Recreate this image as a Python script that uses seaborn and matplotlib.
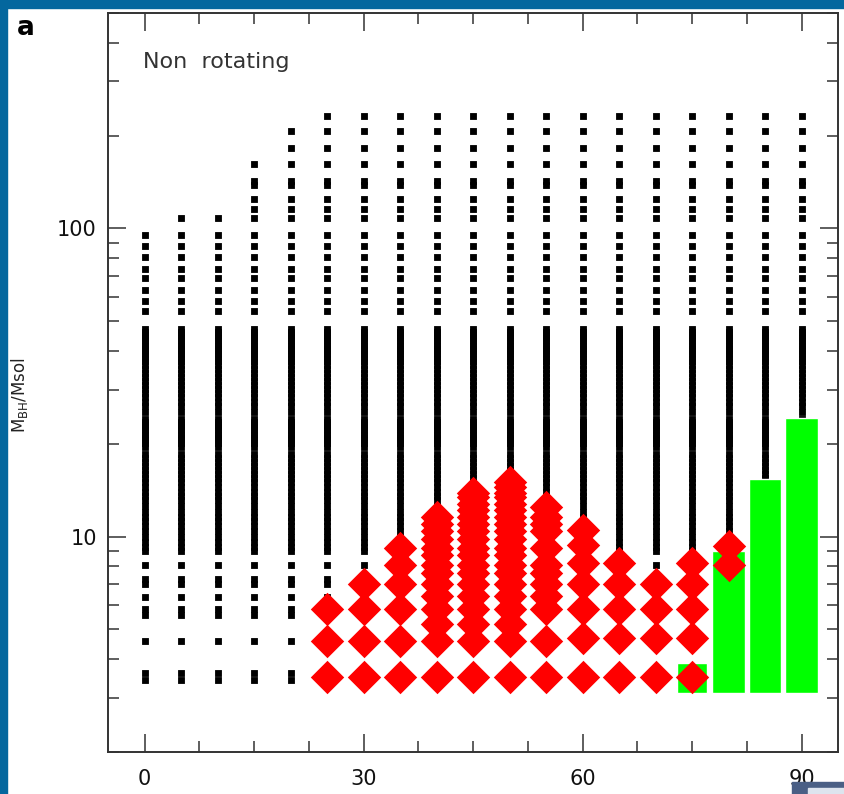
import pandas as pd
import seaborn as sns
import matplotlib.pyplot as plt
from matplotlib.ticker import MultipleLocator, LogLocator, NullFormatter, FixedLocator
from matplotlib.patches import Rectangle

# black model grid: remnant masses (Msol) tested at every column
mass_grid = [3.42, 3.6, 4.6, 5.55, 5.8, 6.35, 7.0, 7.3, 8.1, 9.0, 9.25, 9.6, 10.0,
             10.4, 10.8, 11.2, 11.6, 12.0, 12.6, 13.1, 13.5, 14.0, 14.5, 15.0,
             15.5, 16.0, 16.5, 17.0, 17.5, 18.0, 18.6, 19.6, 20.1, 20.6, 21.1,
             21.6, 22.1, 22.6, 23.1, 23.6, 24.1, 25.3, 26.5, 27.4, 28.3, 29.2,
             30.1, 31.0, 32.0, 33.0, 34.0, 35.0, 36.0, 37.0, 38.0, 39.0, 40.0,
             41.0, 42.0, 43.0, 44.0, 45.0, 46.0, 47.2, 54, 58, 63, 69, 74, 81,
             88, 95, 108, 116, 125, 138, 143, 162, 182, 207, 231]
col_x = [0, 5, 10, 15, 20, 25, 30, 35, 40, 45, 50, 55, 60, 65, 70, 75, 80, 85, 90]
col_top = [95, 108, 108, 162, 207, 231, 231, 231, 231, 231, 231, 231, 231, 231,
           231, 231, 231, 231, 231]

# red diamonds
red_x = [25, 30, 35, 40, 45, 50, 55, 60, 65, 70, 75, 80]
red_masses = [
    [3.5, 4.6, 5.8],
    [3.5, 4.6, 5.8, 7.0],
    [3.5, 4.6, 5.8, 7.0, 8.1, 9.2],
    [3.5, 4.6, 5.2, 5.8, 6.4, 7.0, 7.6, 8.1, 8.7, 9.2, 9.8, 10.4, 11.0, 11.6],
    [3.5, 4.6, 5.2, 5.8, 6.4, 7.0, 7.6, 8.1, 8.7, 9.2, 9.8, 10.4, 11.0, 11.6,
     12.2, 12.8, 13.4, 13.9],
    [3.5, 4.6, 5.2, 5.8, 6.4, 7.0, 7.6, 8.1, 8.7, 9.2, 9.8, 10.4, 11.0, 11.6,
     12.2, 12.8, 13.4, 13.9, 14.5, 15.0],
    [3.5, 4.6, 5.8, 6.4, 7.0, 7.6, 8.1, 9.2, 10.4, 11.0, 11.6, 12.5],
    [3.5, 4.7, 5.8, 7.0, 8.2, 9.4, 10.5],
    [3.5, 4.7, 5.8, 7.0, 8.2],
    [3.5, 4.7, 5.8, 7.0],
    [3.5, 4.7, 5.8, 7.0, 8.2],
    [8.1, 9.35],
]

# green bars
green_x = [75, 80, 85, 90]
green_bottom = [3.1, 3.1, 3.1, 3.1]
green_top = [3.9, 9.0, 15.4, 24.3]
green_width = [4.1, 4.4, 4.4, 4.4]

blue = '#04679e'

black = pd.DataFrame([(x, m) for x, top in zip(col_x, col_top) for m in mass_grid if m <= top],
                     columns=['x', 'mass'])
red = pd.DataFrame([(x, m) for x, ms in zip(red_x, red_masses) for m in ms],
                   columns=['x', 'mass'])

sns.set_theme(style='ticks')
plt.rcParams['font.family'] = ['DejaVu Sans']

fig = plt.figure(figsize=(8.44, 7.94), dpi=100)
ax = fig.add_axes([108 / 844, 42 / 794, 730 / 844, 739 / 794])

sns.scatterplot(data=black, x='x', y='mass', marker='s', s=20, color='black',
                linewidth=0.6, edgecolor='black', ax=ax, legend=False, zorder=2)
ax.bar(green_x, [t - b for t, b in zip(green_top, green_bottom)], bottom=green_bottom,
       width=green_width, color='#00ff00', zorder=3)
sns.scatterplot(data=red, x='x', y='mass', marker='D', s=290, color='#ff0000',
                linewidth=0, ax=ax, legend=False, zorder=4)

ax.set_yscale('log')
ax.set_xlim(-5, 95)
ax.set_ylim(2, 500)
ax.set_xlabel('')
ax.set_ylabel('')

# axes / ticks
ax.set_xticks([0, 30, 60, 90])
ax.xaxis.set_minor_locator(MultipleLocator(7.5))
ax.yaxis.set_major_locator(FixedLocator([10, 100]))
ax.set_yticklabels(['10', '100'])
ax.yaxis.set_minor_locator(LogLocator(base=10, subs=range(2, 10)))
ax.yaxis.set_minor_formatter(NullFormatter())
ax.tick_params(which='both', direction='in', top=True, right=True,
               color='#333333', labelcolor='#111111', width=1.1)
ax.tick_params(which='major', length=13, labelsize=15)
ax.tick_params(which='minor', length=8)
ax.tick_params(axis='x', pad=12)
ax.tick_params(axis='y', pad=8)
for s in ax.spines.values():
    s.set_linewidth(1.4)
    s.set_color('#333333')

# texts
fig.text(143 / 844, 1 - 68 / 794, 'Non  rotating', fontsize=16, color='#333333')
fig.text(17 / 844, 1 - 35 / 794, 'a', fontsize=19, fontweight='bold', color='black')
fig.text(20 / 844, 1 - 395 / 794, r'M$_{\mathregular{BH}}$/Msol', rotation=90,
         fontsize=12, color='#222222', ha='center', va='center')

# blue frame
fig.patches.append(Rectangle((0, 0), 7 / 844, 1, transform=fig.transFigure,
                             color=blue, zorder=10))
fig.patches.append(Rectangle((0, 1 - 8 / 794), 1, 8 / 794, transform=fig.transFigure,
                             color=blue, zorder=10))
fig.patches.append(Rectangle((792 / 844, 0), 52 / 844, 12 / 794, transform=fig.transFigure,
                             color='#4a5f85', zorder=10))
fig.patches.append(Rectangle((808 / 844, 0), 36 / 844, 6 / 794, transform=fig.transFigure,
                             color='#dde4ee', zorder=11))

plt.savefig('out.png', dpi=100)
